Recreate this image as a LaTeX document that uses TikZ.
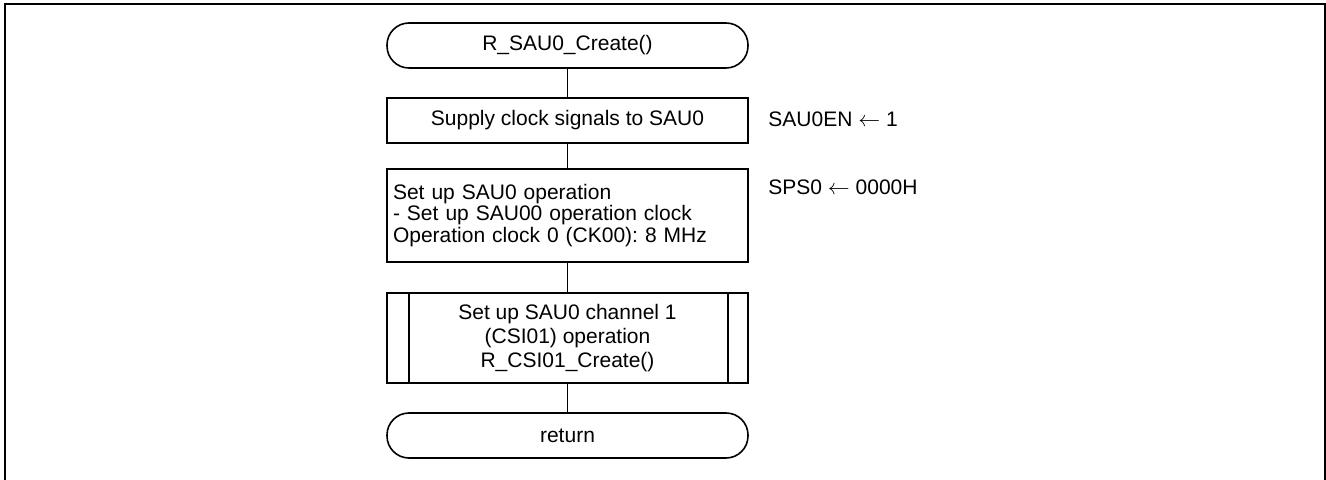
\documentclass[tikz,border=0pt]{standalone}
\usepackage{fontspec}
\setmainfont{Liberation Sans}
\frenchspacing
\begin{document}
\begin{tikzpicture}[x=0.5pt,y=-0.5pt,
  txt/.style={font=\fontsize{10.5}{11}\selectfont},
  term/.style={txt, draw, line width=0.8pt, rounded corners=11pt, minimum width=180.5pt, minimum height=22.5pt, inner sep=0pt},
  proc/.style={txt, draw, line width=0.8pt, minimum width=180.5pt, inner sep=0pt},
  lbl/.style={txt, anchor=base west, inner sep=0pt},
  link/.style={line width=0.8pt},
  frame/.style={line width=1.35pt}]
\useasboundingbox (0,0) rectangle (1326,480);
\draw[frame] (5,482) -- (5,4) -- (1325,4) -- (1325,482);

\node[term] (start) at (567.5,45.5) {R\_SAU0\_Create()};
\node[proc, minimum height=22.5pt] (b1) at (567.5,120.5) {Supply clock signals to SAU0};
\node[proc, minimum height=46.5pt, inner xsep=3pt, text width=174.5pt, align=left,
      font=\fontsize{10.5}{10.9}\selectfont] (b2) at (567.5,215.5)
  {Set up SAU0 operation\\- Set up SAU00 operation clock\\Operation clock 0 (CK00): 8 MHz};
\node[proc, minimum height=45pt, align=center, font=\fontsize{10.5}{12}\selectfont] (b3) at (567.5,338)
  {Set up SAU0 channel 1\\(CSI01) operation\\R\_CSI01\_Create()};
\draw[link] ([xshift=11.5pt]b3.north west) -- ([xshift=11.5pt]b3.south west);
\draw[link] ([xshift=-10.5pt]b3.north east) -- ([xshift=-10.5pt]b3.south east);
\node[term] (ret) at (567.5,435.5) {return};

\node[lbl] (l1) at (768,126.7) {SAU0EN $\leftarrow$ 1};
\node[lbl] (l2) at (768,195) {SPS0 $\leftarrow$ 0000H};

\draw[link] (start) -- (b1);
\draw[link] (b1) -- (b2);
\draw[link] (b2) -- (b3);
\draw[link] (b3) -- (ret);
\end{tikzpicture}
\end{document}
